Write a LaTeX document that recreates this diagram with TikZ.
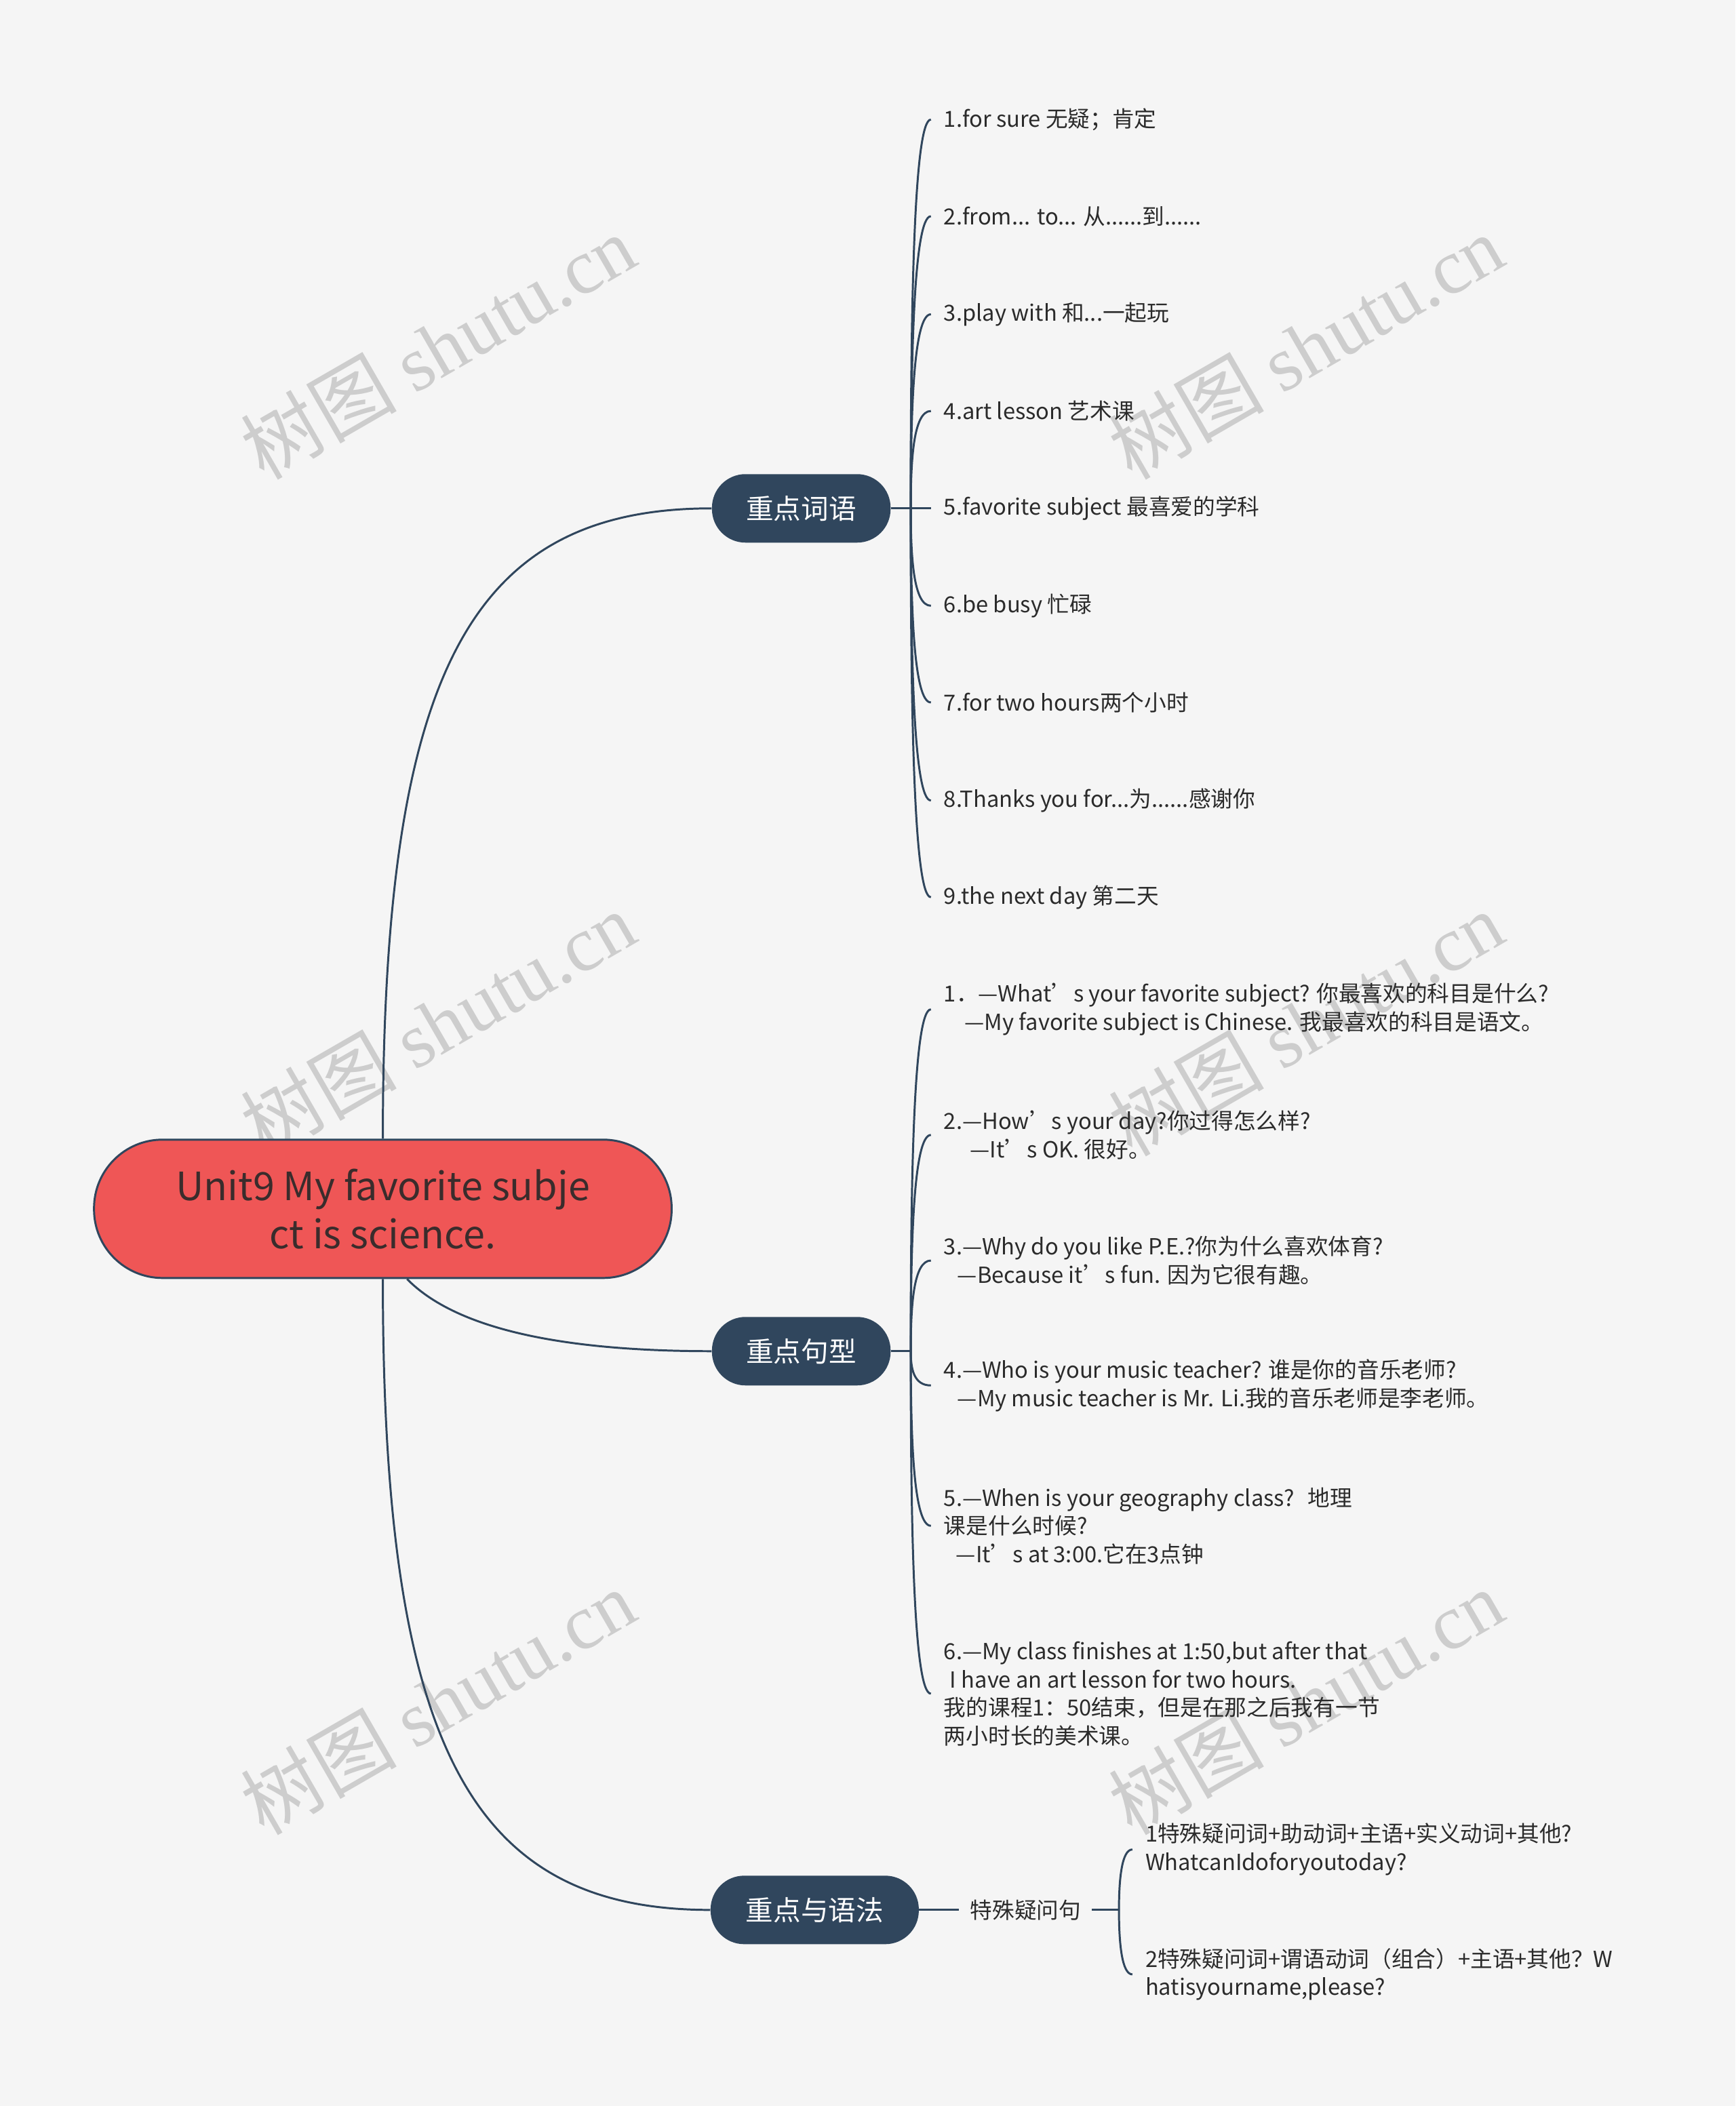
\documentclass[tikz,border=0pt]{standalone}
\usepackage{fontspec}
\setmainfont{Noto Sans CJK SC}
\newfontfamily\wmserif{Liberation Serif}
\usetikzlibrary{calc}
\definecolor{bgc}{HTML}{F5F5F5}
\definecolor{navy}{HTML}{30465D}
\definecolor{rootred}{HTML}{EF5656}
\definecolor{roottext}{HTML}{3A2C2C}
\definecolor{leafc}{HTML}{2B2B2B}
\definecolor{wmc}{HTML}{CDCDCD}
\begin{document}
\begin{tikzpicture}[x=1pt,y=-1pt,
  mainnode/.style={fill=navy, text=white, rounded corners=25pt, minimum height=51pt, inner sep=0pt, font=\fontsize{20.5}{24}\selectfont},
  rootnode/.style={fill=rootred, draw=navy, line width=1.5pt, text=roottext, rounded corners=51pt, minimum width=430pt, minimum height=103pt, inner sep=0pt, align=center, font=\fontsize{29}{36}\selectfont},
  leaf/.style={anchor=west, inner xsep=9.5pt, inner ysep=0pt, align=left, text=leafc, font=\fontsize{16.5}{21}\selectfont},
  conn/.style={draw=navy, line width=1.5pt},
  wm/.style={rotate=30, text=wmc, inner sep=0pt, font=\fontsize{58}{62}\selectfont}]
\useasboundingbox (0,0) rectangle (1292,1568);
\fill[bgc] (0,0) rectangle (1292,1568);

% watermarks
\foreach \wx in {326,972}{
  \foreach \wy in {258,762,1267}{
    \node[wm] at (\wx,\wy) {树图 {\wmserif shutu.cn}};
  }
}

% root and main nodes
\node[rootnode] (root) at (285,900) {Unit9 My favorite subje\\ct is science.};
\node[mainnode, minimum width=133pt] (n1) at (596.5,378.5) {重点词语};
\node[mainnode, minimum width=133pt] (n2) at (596.5,1006) {重点句型};
\node[mainnode, minimum width=155pt] (n3) at (606.5,1422) {重点与语法};

\draw[conn] (root.north) .. controls (285,500) and (350,378.5) .. (n1.west);
\draw[conn] ([xshift=18pt]root.south) .. controls (340,990) and (420,1006) .. (n2.west);
\draw[conn] (root.south) .. controls (285,1300) and (350,1422) .. (n3.west);

% section 1 leaves
\coordinate (s1) at (678,378.5);
\node[leaf] (a1) at (693,89) {1.for sure 无疑；肯定};
\node[leaf] (a2) at (693,161) {2.from... to... 从......到......};
\node[leaf] (a3) at (693,234) {3.play with 和...一起玩};
\node[leaf] (a4) at (693,306) {4.art lesson 艺术课};
\node[leaf] (a5) at (693,378.5) {5.favorite subject 最喜爱的学科};
\node[leaf] (a6) at (693,451) {6.be busy 忙碌};
\node[leaf] (a7) at (693,523) {7.for two hours两个小时};
\node[leaf] (a8) at (693,596) {8.Thanks you for...为......感谢你};
\node[leaf] (a9) at (693,668) {9.the next day 第二天};
\draw[conn] (n1.east) -- (s1);
\foreach \i in {1,...,9}{
  \draw[conn] (s1) .. controls ($(s1)!0.5!(s1 |- a\i.west)$) and ($(s1 |- a\i.west)+(2,0)$) .. (a\i.west);
}

% section 2 leaves
\coordinate (s2) at (678,1006);
\node[leaf] (b1) at (693,751.5) {1．—What’s your favorite subject? 你最喜欢的科目是什么?\\\hspace*{15.5pt}—My favorite subject is Chinese. 我最喜欢的科目是语文。};
\node[leaf] (b2) at (693,845) {2.—How’s your day?你过得怎么样?\\\hspace*{19.5pt}—It’s OK. 很好。};
\node[leaf] (b3) at (693,938.5) {3.—Why do you like P.E.?你为什么喜欢体育?\\\hspace*{10pt}—Because it’s fun. 因为它很有趣。};
\node[leaf] (b4) at (693,1031.5) {4.—Who is your music teacher? 谁是你的音乐老师?\\\hspace*{10pt}—My music teacher is Mr. Li.我的音乐老师是李老师。};
\node[leaf] (b5) at (693,1136) {5.—When is your geography class?\hspace*{0.6em}地理\\课是什么时候?\\\hspace*{9pt}—It’s at 3:00.它在3点钟};
\node[leaf] (b6) at (693,1261) {6.—My class finishes at 1:50,but after that\\\hspace*{4.5pt}I have an art lesson for two hours.\\我的课程1：50结束，但是在那之后我有一节\\两小时长的美术课。};
\draw[conn] (n2.east) -- (s2);
\foreach \i in {1,...,6}{
  \draw[conn] (s2) .. controls ($(s2)!0.5!(s2 |- b\i.west)$) and ($(s2 |- b\i.west)+(2,0)$) .. (b\i.west);
}

% section 3
\node[inner xsep=8pt, inner ysep=0pt, text=leafc, font=\fontsize{16.5}{21}\selectfont] (q) at (763.5,1422) {特殊疑问句};
\coordinate (s3) at (833,1422);
\node[leaf] (c1) at (843,1377) {1特殊疑问词+助动词+主语+实义动词+其他?\\WhatcanIdoforyoutoday?};
\node[leaf] (c2) at (843,1470) {2特殊疑问词+谓语动词（组合）+主语+其他？W\\hatisyourname,please?};
\draw[conn] (n3.east) -- (q.west);
\draw[conn] (q.east) -- (s3);
\foreach \i in {1,2}{
  \draw[conn] (s3) .. controls ($(s3)!0.5!(s3 |- c\i.west)$) and ($(s3 |- c\i.west)+(2,0)$) .. (c\i.west);
}
\end{tikzpicture}
\end{document}
